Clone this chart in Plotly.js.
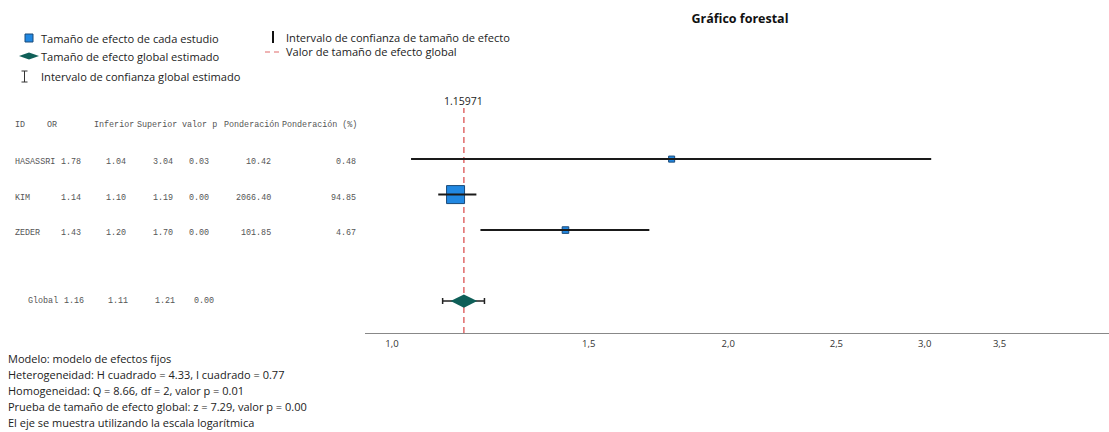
<!DOCTYPE html>
<html>
<head>
<meta charset="utf-8">
<script src="https://cdn.plot.ly/plotly-3.0.1.min.js"></script>
<style>html,body{margin:0;padding:0;background:#fff}#chart{width:1109px;height:432px}</style>
</head>
<body>
<div id="chart"></div>
<script>
// ---- data ----
const ids = ['HASASSRI', 'KIM', 'ZEDER'];
const oddsRatio = [1.78, 1.14, 1.43];
const lower = [1.04, 1.10, 1.20];
const upper = [3.04, 1.19, 1.70];
const pValues = [0.03, 0.00, 0.00];
const weights = [10.42, 2066.40, 101.85];
const weightPct = [0.48, 94.85, 4.67];

const globalLabel = 'Global';
const globalEstimate = 1.15971;
const globalLower = 1.11;
const globalUpper = 1.21;
const globalP = 0.00;

const headers = ['ID', 'OR', 'Inferior', 'Superior', 'valor p', 'Ponderación', 'Ponderación (%)'];
const tickValues = [1.0, 1.5, 2.0, 2.5, 3.0, 3.5];

const footnotes = [
  'Modelo: modelo de efectos fijos',
  'Heterogeneidad: H cuadrado = 4.33, I cuadrado = 0.77',
  'Homogeneidad: Q = 8.66, df = 2, valor p = 0.01',
  'Prueba de tamaño de efecto global: z = 7.29, valor p = 0.00',
  'El eje se muestra utilizando la escala logarítmica'
];
const legendItems = [
  'Tamaño de efecto de cada estudio',
  'Tamaño de efecto global estimado',
  'Intervalo de confianza global estimado',
  'Intervalo de confianza de tamaño de efecto',
  'Valor de tamaño de efecto global'
];

// ---- layout helpers ----
const W = 1109, H = 432;
const px = x => x / W;
const py = y => 1 - y / H;

const rows = ids.map((_, i) => i);
const globalRow = ids.length + 1;
const yTop = -1.44, yBottom = 4.9;

const blue = '#2188e2', blueEdge = '#1b4a78', teal = '#0f5f58', refRed = '#e06a6a';

const traces = [
  { // global value reference line
    x: [globalEstimate, globalEstimate], y: [yBottom, yTop],
    mode: 'lines', line: { color: refRed, width: 1.5, dash: '6px,4px' },
    hoverinfo: 'skip', showlegend: false, cliponaxis: false
  },
  { // study squares
    x: oddsRatio, y: rows, mode: 'markers', showlegend: false,
    marker: { symbol: 'square', color: blue, opacity: 1,
      size: weightPct.map(w => 6 + 12 * w / Math.max(...weightPct)),
      line: { color: blueEdge, width: 1 } }
  },
  { // study confidence intervals
    x: oddsRatio, y: rows, mode: 'markers', showlegend: false,
    marker: { opacity: 0, size: 1 },
    error_x: { type: 'data', symmetric: false,
      array: upper.map((u, i) => u - oddsRatio[i]),
      arrayminus: lower.map((l, i) => oddsRatio[i] - l),
      width: 0, thickness: 2, color: '#1a1a1a' }
  },
  { // global estimate
    x: [globalEstimate], y: [globalRow], mode: 'markers', showlegend: false,
    marker: { symbol: 'diamond-wide', size: 19, color: teal, opacity: 1, line: { width: 0 } },
    error_x: { type: 'data', symmetric: false,
      array: [globalUpper - globalEstimate], arrayminus: [globalEstimate - globalLower],
      width: 3, thickness: 1.5, color: '#222' }
  }
];

const annotations = [];
const tableFont = { family: 'Liberation Mono, DejaVu Sans Mono, monospace', size: 8.4, color: '#555' };
// header (left-aligned)
const headerX = [13, 45, 92, 135, 180, 222, 280];
headers.forEach((h, i) => annotations.push({
  text: h, xref: 'paper', yref: 'paper', x: px(headerX[i]), y: py(125),
  xanchor: 'left', yanchor: 'middle', showarrow: false, font: tableFont
}));
// study rows
const colRight = [83, 128, 175, 211, 273, 358];
ids.forEach((id, i) => {
  const cells = [oddsRatio[i].toFixed(2), lower[i].toFixed(2), upper[i].toFixed(2),
    pValues[i].toFixed(2), weights[i].toFixed(2), weightPct[i].toFixed(2)];
  annotations.push({ text: id, xref: 'paper', yref: 'y', x: px(13), y: rows[i], yshift: -3,
    xanchor: 'left', yanchor: 'middle', showarrow: false, font: tableFont });
  cells.forEach((c, j) => annotations.push({ text: c, xref: 'paper', yref: 'y',
    x: px(colRight[j]), y: rows[i], yshift: -3, xanchor: 'right', yanchor: 'middle',
    showarrow: false, font: tableFont }));
});
// global row
const gRight = [86, 130, 177, 216];
annotations.push({ text: globalLabel, xref: 'paper', yref: 'y', x: px(26), y: globalRow, yshift: 0,
  xanchor: 'left', yanchor: 'middle', showarrow: false, font: tableFont });
[globalEstimate, globalLower, globalUpper, globalP].forEach((v, j) => annotations.push({
  text: v.toFixed(2), xref: 'paper', yref: 'y', x: px(gRight[j]), y: globalRow, yshift: 0,
  xanchor: 'right', yanchor: 'middle', showarrow: false, font: tableFont }));

// reference value label
annotations.push({ text: String(globalEstimate), xref: 'x', yref: 'paper',
  x: Math.log10(globalEstimate), y: py(101), xanchor: 'center', yanchor: 'middle',
  showarrow: false, font: { family: 'Open Sans, sans-serif', size: 10.5, color: '#222' } });

// footnotes
const noteFont = { family: 'Open Sans, sans-serif', size: 11, color: '#222' };
footnotes.forEach((t, i) => annotations.push({ text: t, xref: 'paper', yref: 'paper',
  x: px(6), y: py(358 + 16 * i), xanchor: 'left', yanchor: 'middle', showarrow: false, font: noteFont }));

// legend texts
const legFont = { family: 'Open Sans, sans-serif', size: 11.1, color: '#222' };
const legPos = [[39, 38], [39, 56], [39, 76], [284, 37], [284, 52]];
legendItems.forEach((t, i) => annotations.push({ text: t, xref: 'paper', yref: 'paper',
  x: px(legPos[i][0]), y: py(legPos[i][1]), xanchor: 'left', yanchor: 'middle',
  showarrow: false, font: legFont }));

// legend icons
const shapes = [
  { type: 'rect', xref: 'paper', yref: 'paper', x0: px(25), x1: px(33), y0: py(42), y1: py(34),
    fillcolor: blue, line: { color: blueEdge, width: 1 } },
  { type: 'path', xref: 'paper', yref: 'paper',
    path: `M ${px(19)} ${py(56)} L ${px(29)} ${py(52.5)} L ${px(39)} ${py(56)} L ${px(29)} ${py(59.5)} Z`,
    fillcolor: teal, line: { width: 0 } },
  { type: 'line', xref: 'paper', yref: 'paper', x0: px(24.5), x1: px(24.5), y0: py(71), y1: py(82), line: { color: '#333', width: 1 } },
  { type: 'line', xref: 'paper', yref: 'paper', x0: px(21.5), x1: px(27.5), y0: py(71), y1: py(71), line: { color: '#333', width: 1 } },
  { type: 'line', xref: 'paper', yref: 'paper', x0: px(21.5), x1: px(27.5), y0: py(82), y1: py(82), line: { color: '#333', width: 1 } },
  { type: 'line', xref: 'paper', yref: 'paper', x0: px(273), x1: px(273), y0: py(31), y1: py(43), line: { color: '#111', width: 2 } },
  { type: 'line', xref: 'paper', yref: 'paper', x0: px(265), x1: px(281), y0: py(52), y1: py(52), line: { color: refRed, width: 1.2, dash: '5px,4px' } }
];

const layout = {
  width: W, height: H,
  margin: { l: 0, r: 0, t: 0, b: 0 },
  paper_bgcolor: '#fff', plot_bgcolor: '#fff',
  separators: ',.',
  showlegend: false,
  title: { text: 'Gráfico forestal', x: px(740), xanchor: 'center', y: py(19), yanchor: 'middle',
    font: { family: 'Open Sans, sans-serif', size: 12.5, color: '#111', weight: 'bold' } },
  xaxis: {
    type: 'log', domain: [px(365), 1], range: [-0.0242, 0.6421],
    tickvals: tickValues, tickformat: '.1f',
    showline: true, linecolor: '#888', linewidth: 1,
    ticks: 'outside', ticklen: 2, tickcolor: 'rgba(0,0,0,0)',
    showgrid: false, zeroline: false,
    tickfont: { family: 'Open Sans, sans-serif', size: 9.5, color: '#333' }
  },
  yaxis: {
    domain: [py(333), py(108)], range: [yBottom, yTop],
    showline: false, showgrid: false, zeroline: false, showticklabels: false, ticks: ''
  },
  annotations, shapes
};

Plotly.newPlot('chart', traces, layout, { displayModeBar: false, staticPlot: true });
</script>
</body>
</html>
